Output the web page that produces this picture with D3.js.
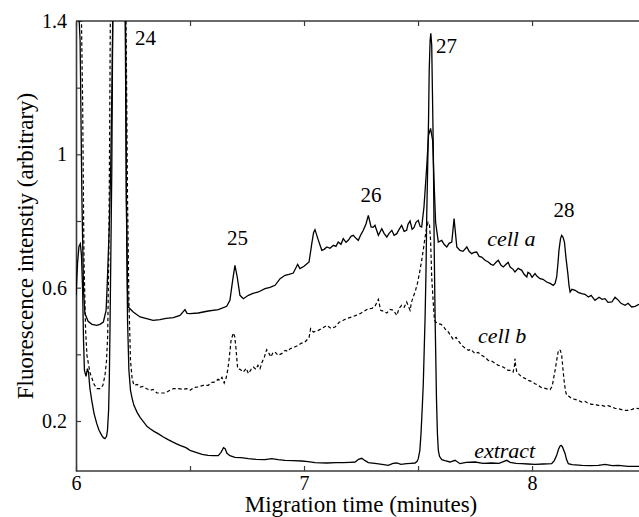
<!DOCTYPE html>
<html>
<head>
<meta charset="utf-8">
<script src="https://cdn.jsdelivr.net/npm/d3@7"></script>
<style>
body { margin: 0; background: #fff; }
text { font-family: "Liberation Serif", "Times New Roman", serif; }
</style>
</head>
<body>
<div class="chart"></div>
<script>
// traces: [migration time (min), fluorescence]
const cellA = [
  [6.000,1.60],[6.018,1.342],[6.026,0.862],[6.033,0.592],[6.039,0.523],[6.053,0.499],[6.070,0.490],[6.091,0.487],
  [6.105,0.490],[6.120,0.497],[6.132,0.532],[6.137,0.612],[6.146,0.782],[6.152,0.952],[6.158,1.222],[6.162,1.462],
  [6.164,1.55],[6.193,1.64],[6.215,1.552],[6.218,1.342],[6.221,0.862],[6.226,0.592],[6.229,0.542],[6.251,0.527],
  [6.281,0.512],[6.310,0.507],[6.338,0.502],[6.368,0.504],[6.395,0.508],[6.427,0.510],[6.456,0.517],[6.478,0.534],
  [6.487,0.523],[6.500,0.522],[6.536,0.524],[6.580,0.530],[6.624,0.534],[6.661,0.544],[6.675,0.562],[6.687,0.622],
  [6.697,0.667],[6.707,0.632],[6.719,0.577],[6.734,0.567],[6.756,0.577],[6.776,0.583],[6.800,0.587],[6.829,0.597],
  [6.851,0.601],[6.873,0.607],[6.895,0.627],[6.917,0.637],[6.934,0.640],[6.953,0.644],[6.972,0.670],[6.982,0.657],
  [7.000,0.664],[7.022,0.677],[7.034,0.732],[7.042,0.766],[7.048,0.774],[7.063,0.742],[7.078,0.712],[7.088,0.715],
  [7.100,0.722],[7.114,0.718],[7.129,0.727],[7.140,0.724],[7.150,0.737],[7.162,0.730],[7.172,0.747],[7.184,0.736],
  [7.194,0.742],[7.206,0.754],[7.216,0.757],[7.228,0.748],[7.238,0.742],[7.250,0.760],[7.260,0.772],[7.272,0.792],
  [7.282,0.817],[7.294,0.782],[7.303,0.781],[7.311,0.787],[7.326,0.757],[7.341,0.777],[7.351,0.763],[7.363,0.752],
  [7.373,0.763],[7.385,0.772],[7.395,0.757],[7.407,0.762],[7.417,0.775],[7.428,0.787],[7.439,0.769],[7.450,0.772],
  [7.456,0.790],[7.465,0.800],[7.474,0.775],[7.482,0.780],[7.491,0.796],[7.501,0.802],[7.509,0.784],[7.516,0.782],
  [7.526,0.842],[7.538,0.962],[7.546,1.057],[7.555,1.078],[7.564,1.042],[7.570,0.922],[7.577,0.796],[7.589,0.737],
  [7.604,0.742],[7.614,0.730],[7.626,0.722],[7.636,0.733],[7.648,0.737],[7.658,0.807],[7.670,0.722],[7.684,0.712],
  [7.697,0.709],[7.714,0.722],[7.724,0.709],[7.735,0.702],[7.746,0.706],[7.757,0.707],[7.768,0.694],[7.779,0.692],
  [7.794,0.682],[7.808,0.677],[7.820,0.670],[7.830,0.667],[7.842,0.676],[7.852,0.682],[7.864,0.667],[7.874,0.662],
  [7.886,0.670],[7.895,0.676],[7.904,0.662],[7.917,0.655],[7.925,0.647],[7.939,0.658],[7.955,0.652],[7.965,0.640],
  [7.977,0.632],[7.982,0.646],[7.991,0.642],[8.000,0.631],[8.013,0.642],[8.022,0.634],[8.035,0.627],[8.048,0.625],
  [8.064,0.617],[8.079,0.613],[8.093,0.607],[8.101,0.613],[8.108,0.632],[8.114,0.676],[8.118,0.712],[8.125,0.748],
  [8.130,0.757],[8.136,0.751],[8.142,0.737],[8.149,0.688],[8.157,0.642],[8.162,0.607],[8.167,0.587],[8.175,0.595],
  [8.189,0.592],[8.202,0.586],[8.218,0.582],[8.232,0.580],[8.247,0.572],[8.259,0.577],[8.276,0.562],[8.294,0.571],
  [8.307,0.565],[8.320,0.567],[8.333,0.556],[8.350,0.557],[8.364,0.571],[8.379,0.562],[8.390,0.553],[8.408,0.547],
  [8.421,0.553],[8.437,0.542],[8.452,0.544],[8.469,0.550]
];

const cellB = [
  [6.000,1.55],[6.022,1.492],[6.029,1.162],[6.035,0.682],[6.042,0.472],[6.048,0.397],[6.061,0.346],[6.079,0.310],
  [6.092,0.297],[6.105,0.297],[6.118,0.307],[6.127,0.337],[6.134,0.382],[6.139,0.457],[6.144,0.712],[6.148,1.102],
  [6.151,1.462],[6.154,1.55],[6.184,1.64],[6.217,1.552],[6.221,1.282],[6.226,0.862],[6.232,0.562],[6.239,0.382],
  [6.246,0.328],[6.254,0.307],[6.268,0.310],[6.281,0.302],[6.294,0.304],[6.310,0.297],[6.325,0.292],[6.338,0.295],
  [6.355,0.284],[6.368,0.284],[6.390,0.284],[6.412,0.292],[6.427,0.297],[6.449,0.297],[6.469,0.295],[6.486,0.297],
  [6.500,0.292],[6.518,0.301],[6.536,0.302],[6.557,0.307],[6.580,0.307],[6.596,0.316],[6.610,0.317],[6.623,0.325],
  [6.632,0.322],[6.640,0.331],[6.650,0.314],[6.658,0.328],[6.665,0.352],[6.671,0.382],[6.680,0.442],[6.690,0.464],
  [6.696,0.454],[6.701,0.422],[6.709,0.357],[6.719,0.355],[6.734,0.347],[6.746,0.358],[6.756,0.342],[6.768,0.355],
  [6.778,0.362],[6.789,0.355],[6.798,0.367],[6.807,0.357],[6.816,0.376],[6.826,0.392],[6.836,0.414],[6.846,0.403],
  [6.855,0.392],[6.864,0.406],[6.873,0.407],[6.886,0.397],[6.902,0.402],[6.917,0.412],[6.930,0.409],[6.939,0.417],
  [6.956,0.421],[6.975,0.427],[6.987,0.433],[7.004,0.437],[7.022,0.450],[7.029,0.477],[7.041,0.467],[7.063,0.472],
  [7.079,0.478],[7.100,0.487],[7.118,0.478],[7.136,0.482],[7.154,0.496],[7.172,0.502],[7.189,0.508],[7.209,0.512],
  [7.228,0.517],[7.246,0.522],[7.263,0.529],[7.282,0.537],[7.298,0.538],[7.311,0.544],[7.326,0.565],[7.336,0.532],
  [7.351,0.529],[7.363,0.524],[7.377,0.535],[7.392,0.532],[7.407,0.517],[7.417,0.538],[7.428,0.547],[7.439,0.541],
  [7.450,0.557],[7.458,0.544],[7.465,0.532],[7.471,0.556],[7.479,0.572],[7.489,0.592],[7.497,0.612],[7.507,0.646],
  [7.516,0.682],[7.524,0.718],[7.531,0.752],[7.537,0.778],[7.544,0.796],[7.550,0.790],[7.555,0.742],[7.560,0.632],
  [7.566,0.562],[7.572,0.502],[7.579,0.496],[7.589,0.492],[7.601,0.490],[7.611,0.484],[7.623,0.472],[7.633,0.467],
  [7.645,0.454],[7.655,0.444],[7.667,0.451],[7.675,0.442],[7.692,0.427],[7.702,0.421],[7.721,0.412],[7.732,0.415],
  [7.750,0.402],[7.763,0.406],[7.779,0.397],[7.794,0.391],[7.808,0.382],[7.825,0.379],[7.838,0.373],[7.852,0.367],
  [7.868,0.364],[7.882,0.358],[7.895,0.352],[7.908,0.352],[7.917,0.347],[7.923,0.367],[7.925,0.387],[7.928,0.367],
  [7.933,0.347],[7.943,0.340],[7.955,0.332],[7.969,0.328],[7.984,0.322],[7.996,0.319],[8.013,0.312],[8.026,0.307],
  [8.042,0.300],[8.057,0.298],[8.070,0.295],[8.079,0.294],[8.088,0.304],[8.093,0.322],[8.101,0.352],[8.108,0.382],
  [8.114,0.406],[8.118,0.414],[8.124,0.412],[8.130,0.397],[8.136,0.352],[8.142,0.312],[8.147,0.289],[8.152,0.277],
  [8.162,0.274],[8.174,0.267],[8.189,0.265],[8.202,0.262],[8.218,0.257],[8.232,0.259],[8.246,0.253],[8.262,0.250],
  [8.276,0.250],[8.289,0.247],[8.305,0.247],[8.320,0.244],[8.333,0.246],[8.350,0.242],[8.364,0.238],[8.377,0.237],
  [8.393,0.234],[8.408,0.232],[8.422,0.232],[8.439,0.235],[8.452,0.238],[8.469,0.237]
];

const extract = [
  [6.000,0.577],[6.007,0.676],[6.013,0.724],[6.019,0.732],[6.024,0.697],[6.029,0.592],[6.033,0.442],[6.037,0.352],
  [6.044,0.334],[6.050,0.357],[6.055,0.346],[6.061,0.298],[6.069,0.262],[6.079,0.223],[6.091,0.192],[6.101,0.172],
  [6.113,0.157],[6.120,0.150],[6.127,0.147],[6.134,0.154],[6.138,0.172],[6.143,0.232],[6.146,0.322],[6.149,0.472],
  [6.152,0.652],[6.157,0.952],[6.160,1.282],[6.162,1.462],[6.164,1.552],[6.189,1.642],[6.214,1.552],[6.217,1.282],
  [6.221,0.862],[6.226,0.502],[6.232,0.352],[6.239,0.292],[6.246,0.268],[6.254,0.247],[6.268,0.226],[6.281,0.211],
  [6.298,0.196],[6.311,0.184],[6.325,0.177],[6.342,0.169],[6.360,0.162],[6.383,0.152],[6.404,0.144],[6.421,0.138],
  [6.439,0.132],[6.456,0.127],[6.482,0.120],[6.500,0.112],[6.526,0.106],[6.553,0.100],[6.579,0.097],[6.605,0.096],
  [6.624,0.096],[6.636,0.106],[6.647,0.120],[6.654,0.117],[6.662,0.103],[6.675,0.096],[6.697,0.091],[6.724,0.090],
  [6.756,0.087],[6.789,0.085],[6.829,0.084],[6.858,0.087],[6.886,0.084],[6.917,0.082],[6.952,0.081],[6.990,0.080],
  [7.018,0.078],[7.048,0.075],[7.100,0.074],[7.140,0.075],[7.172,0.075],[7.202,0.076],[7.224,0.077],[7.239,0.085],
  [7.253,0.088],[7.268,0.081],[7.282,0.075],[7.319,0.072],[7.342,0.070],[7.370,0.067],[7.390,0.073],[7.407,0.074],
  [7.425,0.070],[7.450,0.072],[7.469,0.073],[7.487,0.074],[7.496,0.079],[7.501,0.087],[7.508,0.112],[7.513,0.162],
  [7.519,0.247],[7.523,0.312],[7.527,0.412],[7.531,0.512],[7.535,0.652],[7.538,0.812],[7.542,0.952],[7.546,1.102],
  [7.549,1.252],[7.553,1.342],[7.556,1.363],[7.560,1.327],[7.563,1.192],[7.567,1.012],[7.571,0.712],[7.575,0.502],
  [7.578,0.382],[7.581,0.262],[7.585,0.162],[7.589,0.112],[7.594,0.094],[7.604,0.084],[7.618,0.081],[7.640,0.077],
  [7.662,0.082],[7.684,0.072],[7.711,0.076],[7.750,0.077],[7.785,0.073],[7.823,0.074],[7.855,0.073],[7.877,0.079],
  [7.889,0.082],[7.904,0.076],[7.930,0.073],[7.955,0.072],[7.982,0.071],[8.013,0.070],[8.048,0.071],[8.086,0.072],
  [8.098,0.082],[8.108,0.097],[8.116,0.115],[8.123,0.125],[8.127,0.127],[8.133,0.123],[8.145,0.102],[8.151,0.085],
  [8.159,0.072],[8.175,0.069],[8.218,0.067],[8.254,0.066],[8.291,0.067],[8.320,0.070],[8.351,0.066],[8.379,0.067],
  [8.421,0.064],[8.469,0.064]
];

const xTicks = [6, 6.5, 7, 7.5, 8];
const xTickLabels = [6, 7, 8];
const yTicks = [0.2, 0.4, 0.6, 0.8, 1, 1.2, 1.4];
const yTickLabels = [0.2, 0.6, 1, 1.4];

// peak numbers and trace names, placed in data units
const peakLabels = ['24', '25', '26', '27', '28'];
const peakAt = [[6.259, 1.327], [6.708, 0.727], [7.294, 0.856], [7.579, 1.303], [8.140, 0.811]];
const traceNames = ['cell a', 'cell b', 'extract'];
const traceNameAt = [[7.803, 0.724], [7.763, 0.433], [7.746, 0.088]];

const margin = {top: 21, left: 76, right: 0, bottom: 46};
const width = 639 - margin.left - margin.right;
const height = 517 - margin.top - margin.bottom;
const serif = '"Liberation Serif", "Times New Roman", serif';

let svg = d3.select('.chart')
    .append('svg')
    .attr('width', 639)
    .attr('height', 517)
    .append('g')
    .attr('transform', `translate(${margin.left},${margin.top})`);

let xScale = d3.scaleLinear()
    .domain([6, 8.469])
    .range([0, width]);

let yScale = d3.scaleLinear()
    .domain([0.05, 1.4])
    .range([height, 0]);

svg.append('clipPath')
    .attr('id', 'plot-clip')
    .append('rect')
    .attr('width', width + 20)
    .attr('height', height);

// axes, matlab style: ticks point inwards
const axisColor = '#3a3a3a';
const fmt = d => (d === 1 ? '1' : d3.format('.1f')(d));

let xAxis = d3.axisBottom(xScale)
    .tickValues(xTicks)
    .tickSizeInner(-5)
    .tickSizeOuter(0)
    .tickPadding(5)
    .tickFormat(d => xTickLabels.includes(d) ? d : '');

svg.append('g')
    .attr('class', 'axis x-axis')
    .attr('transform', `translate(0,${height})`)
    .call(xAxis);

let xAxisTop = d3.axisTop(xScale)
    .tickValues(xTicks)
    .tickSizeInner(-5)
    .tickSizeOuter(0)
    .tickFormat('');

svg.append('g')
    .attr('class', 'axis x-axis-top')
    .call(xAxisTop);

let yAxis = d3.axisLeft(yScale)
    .tickValues(yTicks)
    .tickSizeInner(-5)
    .tickSizeOuter(0)
    .tickPadding(9)
    .tickFormat(d => yTickLabels.some(v => Math.abs(v - d) < 1e-9) ? fmt(d) : '');

svg.append('g')
    .attr('class', 'axis y-axis')
    .call(yAxis);

svg.selectAll('.axis')
    .attr('font-family', serif);
svg.selectAll('.axis .domain')
    .attr('stroke', axisColor)
    .attr('stroke-width', 1.6);
svg.selectAll('.axis .tick line')
    .attr('stroke', axisColor)
    .attr('stroke-width', 1.2);
svg.selectAll('.axis text')
    .attr('font-size', 20)
    .attr('fill', '#000');

// top and bottom frame lines run past the right edge of the picture
svg.select('.x-axis-top .domain')
    .attr('d', `M0,0H${width + 20}`);
svg.select('.x-axis .domain')
    .attr('d', `M0,0H${width + 20}`);

// axis titles
svg.append('text')
    .attr('x', xScale(7.25))
    .attr('y', height + 41)
    .attr('text-anchor', 'middle')
    .attr('font-size', 23)
    .text('Migration time (minutes)');

svg.append('text')
    .attr('transform', `translate(${-43},${height / 2}) rotate(-90)`)
    .attr('text-anchor', 'middle')
    .attr('font-size', 23)
    .text('Fluorescence intenstiy (arbitrary)');

// traces
const line = d3.line()
    .x(d => xScale(d[0]))
    .y(d => yScale(d[1]));

const traces = svg.append('g').attr('clip-path', 'url(#plot-clip)');

traces.append('path')
    .datum(extract)
    .attr('fill', 'none')
    .attr('stroke', '#000')
    .attr('stroke-width', 1.3)
    .attr('d', line);

traces.append('path')
    .datum(cellB)
    .attr('fill', 'none')
    .attr('stroke', '#000')
    .attr('stroke-width', 1.2)
    .attr('stroke-dasharray', '3.5,2.5')
    .attr('d', line);

traces.append('path')
    .datum(cellA)
    .attr('fill', 'none')
    .attr('stroke', '#000')
    .attr('stroke-width', 1.3)
    .attr('d', line);

// peak numbers
svg.append('g')
    .selectAll('text')
    .data(peakLabels)
    .join('text')
    .attr('x', (d, i) => xScale(peakAt[i][0]))
    .attr('y', (d, i) => yScale(peakAt[i][1]))
    .attr('text-anchor', d => (d === '24' || d === '27') ? 'start' : 'middle')
    .attr('font-size', 21)
    .text(d => d);

// trace names
svg.append('g')
    .selectAll('text')
    .data(traceNames)
    .join('text')
    .attr('x', (d, i) => xScale(traceNameAt[i][0]))
    .attr('y', (d, i) => yScale(traceNameAt[i][1]))
    .attr('font-size', 22)
    .attr('font-style', 'italic')
    .text(d => d);
</script>
</body>
</html>
